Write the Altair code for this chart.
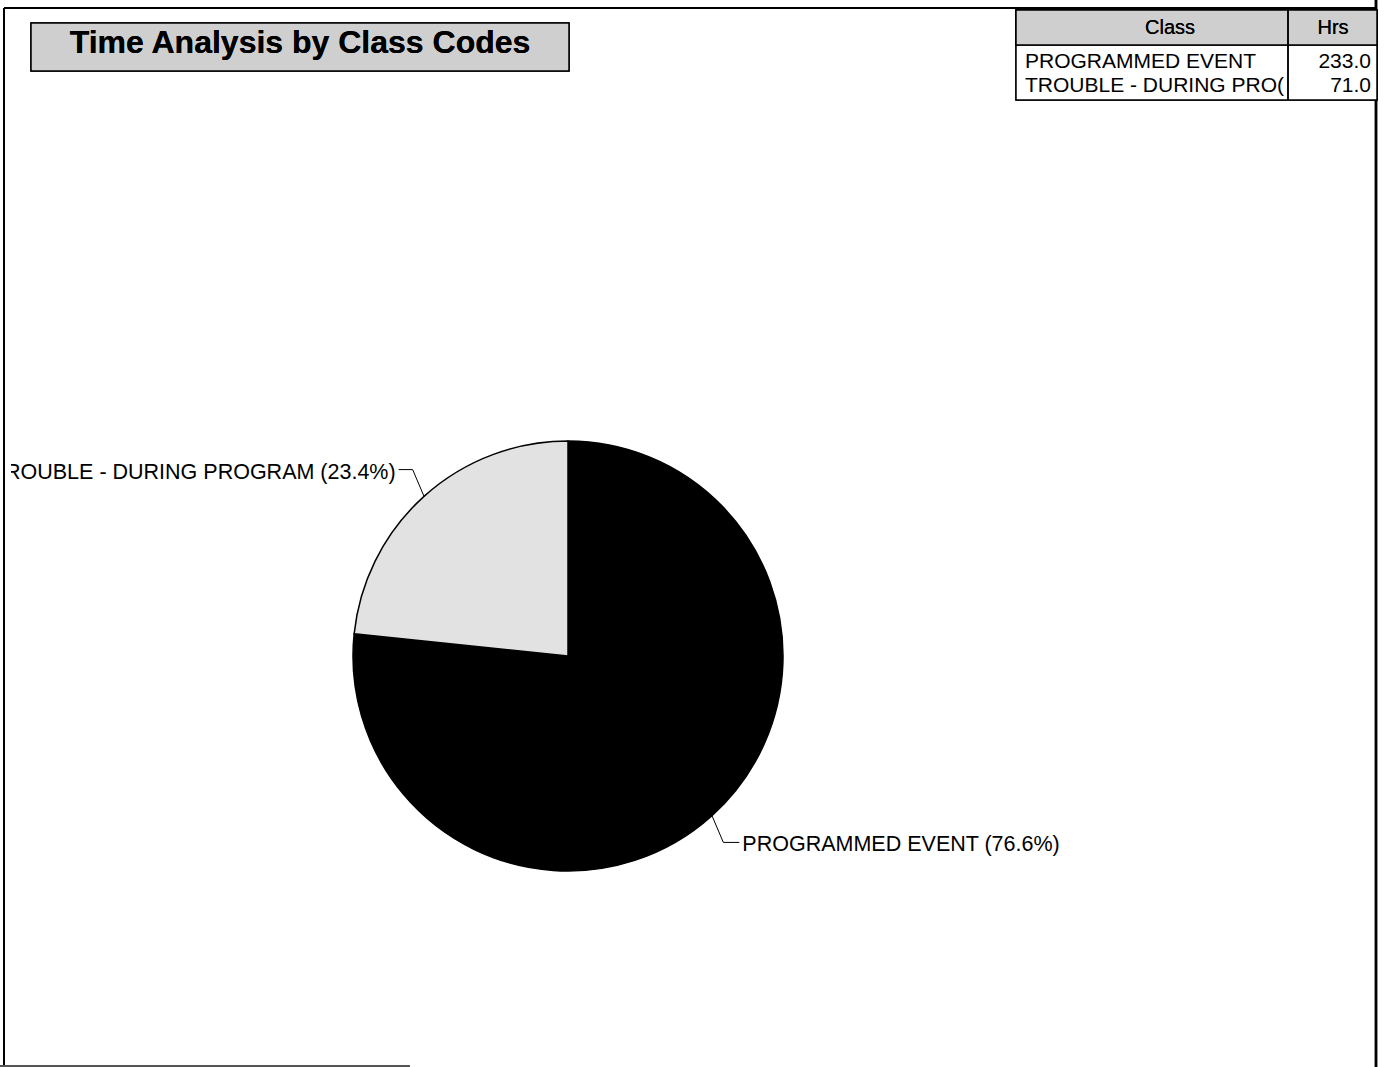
import altair as alt
import pandas as pd

# ---- data ----
classes = ["PROGRAMMED EVENT", "TROUBLE - DURING PROGRAM"]
hours = [233.0, 71.0]
slice_colors = ["#000000", "#e2e2e2"]
title_text = "Time Analysis by Class Codes"
table_headers = ["Class", "Hrs"]

# ---- layout ----
W, H = 1387, 1067
CX, CY, R = 568, 656, 215
RX_ELBOW, RY_ELBOW = 232, 251
FONT = "Liberation Sans"

df = pd.DataFrame({"Class": classes, "Hrs": hours, "idx": list(range(len(classes)))})

xs = alt.Scale(domain=[0, W], range=[0, W], nice=False, zero=False)
ys = alt.Scale(domain=[0, H], range=[0, H], nice=False, zero=False)

base = alt.Chart(df)

def X(f):
    return alt.X(f, type="quantitative", scale=xs, axis=None)

def Y(f):
    return alt.Y(f, type="quantitative", scale=ys, axis=None)

# pie
pie = base.mark_arc(outerRadius=R, stroke="#000000", strokeWidth=1.5).encode(
    theta=alt.Theta("Hrs:Q", stack=True),
    order=alt.Order("idx:Q"),
    color=alt.Color("Class:N", scale=alt.Scale(domain=classes, range=slice_colors), legend=None),
    x=alt.value(CX),
    y=alt.value(CY),
)

geo = base.transform_joinaggregate(total="sum(Hrs)").transform_window(
    cum="sum(Hrs)", sort=[alt.SortField("idx")], frame=[None, 0]
).transform_calculate(
    mid="2*PI*(datum.cum - datum.Hrs/2)/datum.total",
).transform_calculate(
    ux="sin(datum.mid)", uy="-cos(datum.mid)",
).transform_calculate(
    ex=f"{CX} + {R}*datum.ux", ey=f"{CY} + {R}*datum.uy",
    bx=f"{CX} + {RX_ELBOW}*datum.ux", by=f"{CY} + {RY_ELBOW}*datum.uy",
).transform_calculate(
    hx="datum.bx + (datum.ux < 0 ? -14 : 16)",
    tx="datum.bx + (datum.ux < 0 ? -17 : 19)",
    label="datum.Class + ' (' + format(100*datum.Hrs/datum.total, '.1f') + '%)'",
)

lead1 = geo.mark_rule(color="#000000", strokeWidth=1).encode(
    x=X("ex"), y=Y("ey"), x2="bx:Q", y2="by:Q")
lead2 = geo.mark_rule(color="#000000", strokeWidth=1).encode(
    x=X("bx"), y=Y("by"), x2="hx:Q", y2="by:Q")

lab_left = geo.transform_filter("datum.ux < 0").mark_text(
    align="right", baseline="middle", font=FONT, fontSize=21.5, color="#000000", dy=3
).encode(x=X("tx"), y=Y("by"), text="label:N")
lab_right = geo.transform_filter("datum.ux >= 0").mark_text(
    align="left", baseline="middle", font=FONT, fontSize=21.5, color="#000000", dy=3
).encode(x=X("tx"), y=Y("by"), text="label:N")

# clip mask at left edge
mask = base.mark_rect(fill="#ffffff").encode(
    x=alt.value(0), x2=alt.value(11), y=alt.value(0), y2=alt.value(H))

# frame
frame_left = base.mark_rule(color="#000000", strokeWidth=2).encode(
    x=alt.value(4), y=alt.value(8), y2=alt.value(H))
frame_top = base.mark_rule(color="#000000", strokeWidth=2).encode(
    x=alt.value(4), x2=alt.value(1377), y=alt.value(8))
frame_right = base.mark_rule(color="#000000", strokeWidth=2.5).encode(
    x=alt.value(1376), y=alt.value(0), y2=alt.value(H))
frame_bottom = base.mark_rule(color="#555555", strokeWidth=2).encode(
    x=alt.value(0), x2=alt.value(410), y=alt.value(H - 1))

# title box
title_box = base.mark_rect(fill="#cfcfcf", stroke="#000000", strokeWidth=1.5).encode(
    x=alt.value(31), x2=alt.value(569), y=alt.value(23), y2=alt.value(71))
title = base.mark_text(font=FONT, fontSize=32, fontWeight="bold", color="#000000",
                       align="center", baseline="middle").encode(
    x=alt.value(300), y=alt.value(43), text=alt.value(title_text))

# table
tbl_box = base.mark_rect(fill="#ffffff", stroke="#000000", strokeWidth=1.5).encode(
    x=alt.value(1016), x2=alt.value(1377), y=alt.value(10), y2=alt.value(100))
tbl_head = base.mark_rect(fill="#cfcfcf", stroke="#000000", strokeWidth=1.5).encode(
    x=alt.value(1016), x2=alt.value(1377), y=alt.value(10), y2=alt.value(45))
tbl_div = base.mark_rule(color="#000000", strokeWidth=1.5).encode(
    x=alt.value(1288), y=alt.value(10), y2=alt.value(100))
head_class = base.mark_text(font=FONT, fontSize=20, align="center", baseline="middle").encode(
    x=alt.value(1170), y=alt.value(28), text=alt.value(table_headers[0]))
head_hrs = base.mark_text(font=FONT, fontSize=20, align="center", baseline="middle").encode(
    x=alt.value(1333), y=alt.value(28), text=alt.value(table_headers[1]))

rows = base.transform_calculate(ry="62 + 24*datum.idx", hrs_txt="format(datum.Hrs, '.1f')")
row_class = rows.mark_text(font=FONT, fontSize=21, align="left", baseline="middle",
                           limit=262, ellipsis="(").encode(
    x=alt.value(1025), y=Y("ry"), text="Class:N")
row_hrs = rows.mark_text(font=FONT, fontSize=21, align="right", baseline="middle").encode(
    x=alt.value(1371), y=Y("ry"), text="hrs_txt:N")

chart = alt.layer(
    pie, lead1, lead2, lab_left, lab_right, mask,
    frame_left, frame_top, frame_right, frame_bottom,
    title_box, title,
    tbl_box, tbl_head, tbl_div, head_class, head_hrs, row_class, row_hrs,
).properties(
    width=W, height=H,
    autosize=alt.AutoSizeParams(type="none"),
    padding=0,
    background="#ffffff",
).configure_view(stroke=None)

chart.save("out.html", embed_options={"renderer": "svg", "actions": False})
